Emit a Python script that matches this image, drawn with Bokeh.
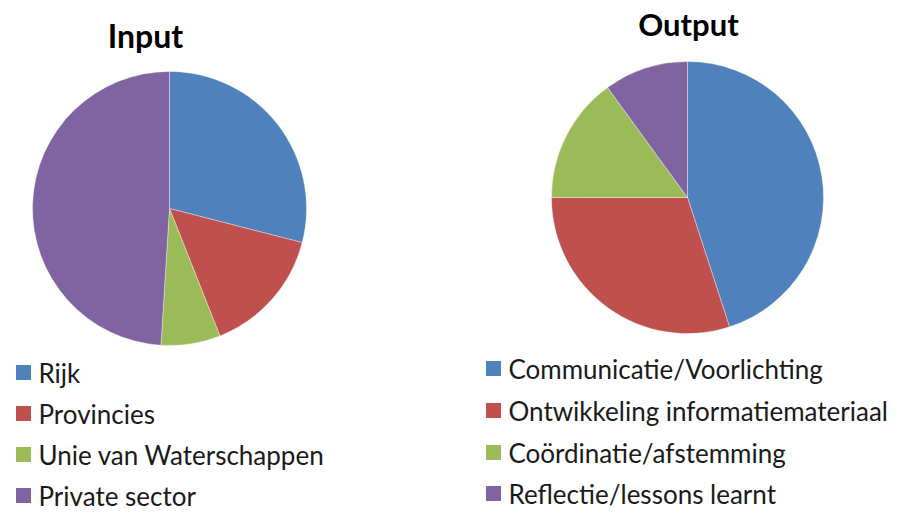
import math
from bokeh.plotting import figure
from bokeh.models import Range1d, ColumnDataSource
from bokeh.core.properties import value
from bokeh.embed import file_html
from bokeh.resources import INLINE

# ---- data ----
input_title = "Input"
input_labels = ["Rijk", "Provincies", "Unie van Waterschappen", "Private sector"]
input_values = [29, 15, 7, 49]

output_title = "Output"
output_labels = ["Communicatie/Voorlichting", "Ontwikkeling informatiemateriaal",
                 "Coördinatie/afstemming", "Reflectie/lessons learnt"]
output_values = [45, 30, 15, 10]

colors = ["#4F81BD", "#C0504D", "#9BBB59", "#8064A2"]

W, H = 894, 515
FONT = "Lato"

p = figure(width=W, height=H, output_backend="svg", toolbar_location=None,
           x_range=Range1d(0, W), y_range=Range1d(0, H),
           min_border=0, outline_line_color=None)
p.axis.visible = False
p.grid.visible = False
p.background_fill_color = "white"
p.border_fill_color = "white"


def Y(img_y):
    return H - img_y


def pie(values, cx, cy, r):
    total = float(sum(values))
    starts, ends = [], []
    cum = 0.0
    for v in values:
        a0 = math.pi / 2 - 2 * math.pi * (cum + v) / total
        a1 = math.pi / 2 - 2 * math.pi * cum / total
        starts.append(a0)
        ends.append(a1)
        cum += v
    src = ColumnDataSource(dict(x=[cx] * len(values), y=[Y(cy)] * len(values),
                                start=starts, end=ends, color=colors[:len(values)]))
    p.wedge(x="x", y="y", radius=r, start_angle="start", end_angle="end",
            fill_color="color", line_color="white", line_width=0.6, line_alpha=0.6,
            source=src)


def legend(labels, x_sq, x_txt, ys, size):
    src = ColumnDataSource(dict(xs=[x_sq] * len(labels), xt=[x_txt] * len(labels),
                                y=[Y(v) for v in ys], label=labels,
                                color=colors[:len(labels)]))
    p.scatter(x="xs", y="y", marker="square", size=15, fill_color="color",
              line_color=None, source=src)
    p.text(x="xt", y="y", text="label", text_font=value(FONT), text_font_size=size,
           text_baseline="middle", text_align="left", text_color="#1a1a1a", source=src)


pie(input_values, 169, 208, 137)
pie(output_values, 687, 197, 136)

p.text(x=[145], y=[Y(35)], text=[input_title], text_font=value(FONT),
       text_font_style="bold", text_font_size="32px", text_align="center",
       text_baseline="middle", text_color="black")
p.text(x=[688], y=[Y(23)], text=[output_title], text_font=value(FONT),
       text_font_style="bold", text_font_size="31px", text_align="center",
       text_baseline="middle", text_color="black")

legend(input_labels, 23, 38, [372, 413, 454, 495], "26px")
legend(output_labels, 493, 508, [368, 410, 452, 493], "26px")

open("out.html", "w").write(file_html(p, INLINE))
